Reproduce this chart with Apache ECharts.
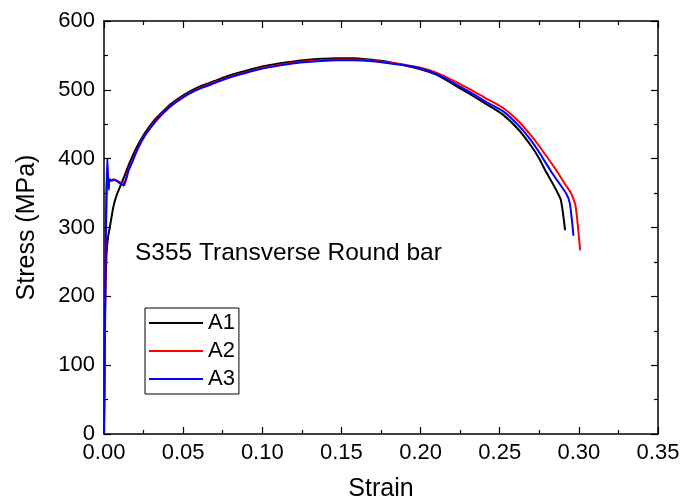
<!DOCTYPE html>
<html>
<head>
<meta charset="utf-8">
<script src="https://cdn.jsdelivr.net/npm/echarts@6/dist/echarts.min.js"></script>
<style>
  html, body { margin: 0; padding: 0; background: #fff; }
  #chart { width: 686px; height: 501px; }
</style>
</head>
<body>
<div id="chart"></div>
<script>
// 应力-应变数据
const strainA1 = [0, 0.0004, 0.0008, 0.0012, 0.0017, 0.0025, 0.0038, 0.0059, 0.008, 0.0101, 0.0126, 0.016, 0.021, 0.026, 0.0315, 0.037, 0.042, 0.05, 0.057, 0.063, 0.07, 0.077, 0.084, 0.095, 0.105, 0.116, 0.126, 0.137, 0.147, 0.158, 0.168, 0.179, 0.189, 0.2, 0.21, 0.22, 0.231, 0.241, 0.252, 0.262, 0.27, 0.275, 0.279, 0.2844, 0.2886, 0.2913];
const stressA1 = [0, 95, 185, 235, 265, 285, 302, 330, 347, 359, 373, 393, 418, 438, 455, 468, 479, 492, 501, 507, 513, 519, 524, 531, 536, 540, 543, 545, 546, 546, 544, 541, 536, 530, 522, 509, 494, 480, 464, 442, 418, 400, 382, 360, 340, 296];

const strainA2 = [0, 0.0004, 0.0008, 0.0012, 0.0016, 0.002, 0.0026, 0.004, 0.006, 0.008, 0.01, 0.012, 0.0135, 0.015, 0.0175, 0.021, 0.026, 0.0315, 0.037, 0.042, 0.05, 0.057, 0.063, 0.07, 0.077, 0.084, 0.095, 0.105, 0.116, 0.126, 0.137, 0.147, 0.158, 0.168, 0.179, 0.189, 0.2, 0.21, 0.22, 0.231, 0.241, 0.252, 0.262, 0.27, 0.275, 0.2855, 0.291, 0.295, 0.298, 0.3008];
const stressA2 = [0, 110, 215, 290, 345, 378, 370, 368, 370, 368, 366, 364, 369, 381, 395, 414, 435, 452, 466, 477, 490, 499, 505, 511, 517, 522, 529, 534, 538, 541, 543, 544, 544, 543, 540, 537, 532, 525, 514, 501, 488, 474, 454, 433, 418, 384, 364, 350, 330, 267];

const strainA3 = [0, 0.0004, 0.0008, 0.0012, 0.0016, 0.0021, 0.0026, 0.003, 0.0035, 0.005, 0.007, 0.009, 0.011, 0.0125, 0.014, 0.0155, 0.0175, 0.021, 0.026, 0.0315, 0.037, 0.042, 0.05, 0.057, 0.063, 0.07, 0.077, 0.084, 0.095, 0.105, 0.116, 0.126, 0.137, 0.147, 0.158, 0.168, 0.179, 0.189, 0.2, 0.21, 0.22, 0.231, 0.241, 0.252, 0.262, 0.27, 0.275, 0.2834, 0.2918, 0.2943, 0.2966];
const stressA3 = [0, 110, 220, 300, 355, 400, 372, 355, 370, 368, 369, 366, 363, 361, 370, 383, 393, 413, 434, 451, 465, 476, 489, 498, 504, 510, 516, 521, 528, 533, 537, 540, 542, 543, 543, 542, 539, 536, 531, 523, 511, 497, 483, 469, 448, 426, 409, 378, 350, 335, 288];

const seriesNames = ['A1', 'A2', 'A3'];
const seriesColors = ['#000000', '#ff0000', '#0000ff'];

const zip = (xs, ys) => xs.map((x, i) => [x, ys[i]]);
const seriesData = [zip(strainA1, stressA1), zip(strainA2, stressA2), zip(strainA3, stressA3)];

const chart = echarts.init(document.getElementById('chart'));

const axisBase = {
    type: 'value',
    splitLine: {show: false},
    axisLine: {show: true, onZero: false, lineStyle: {color: '#000', width: 1.5}},
    axisTick: {show: true, inside: true, length: 7, lineStyle: {color: '#000', width: 1.2}},
    minorTick: {show: true, splitNumber: 2, length: 4, lineStyle: {color: '#000', width: 1.2}},
};

const option = {
    animation: false,
    backgroundColor: '#fff',
    textStyle: {fontFamily: 'Liberation Sans', color: '#000'},
    grid: {left: 104, right: 28, top: 21, bottom: 67, outerBoundsMode: 'none', containLabel: false},
    xAxis: [
        {
            ...axisBase,
            position: 'bottom',
            min: 0, max: 0.35, interval: 0.05,
            axisLabel: {formatter: v => v.toFixed(2), fontSize: 22, color: '#000', margin: 8},
            name: 'Strain',
            nameLocation: 'middle',
            nameGap: 43,
            nameTextStyle: {fontSize: 25, color: '#000'}
        },
        {
            ...axisBase,
            position: 'top',
            min: 0, max: 0.35, interval: 0.05,
            axisLabel: {show: false}
        }
    ],
    yAxis: [
        {
            ...axisBase,
            position: 'left',
            min: 0, max: 600, interval: 100,
            axisLabel: {fontSize: 22, color: '#000', margin: 9},
            name: 'Stress (MPa)',
            nameLocation: 'middle',
            nameGap: 64,
            nameTextStyle: {fontSize: 25, color: '#000'}
        },
        {
            ...axisBase,
            position: 'right',
            min: 0, max: 600, interval: 100,
            axisLabel: {show: false}
        }
    ],
    legend: {
        data: seriesNames,
        orient: 'vertical',
        left: 145,
        top: 308,
        padding: [4, 4, 4, 4],
        itemGap: 6,
        itemWidth: 54,
        itemHeight: 2,
        icon: 'rect',
        borderColor: '#000',
        borderWidth: 1,
        textStyle: {fontSize: 22, color: '#000', lineHeight: 22, padding: [0, 0, 0, 0]}
    },
    graphic: [{
        type: 'text',
        left: 135,
        top: 241,
        style: {text: 'S355 Transverse Round bar', font: '24.5px "Liberation Sans"', fill: '#000'}
    }],
    series: seriesNames.map((name, i) => ({
        name,
        type: 'line',
        xAxisIndex: 0,
        yAxisIndex: 0,
        data: seriesData[i],
        showSymbol: false,
        symbol: 'none',
        smooth: 0.2,
        lineStyle: {color: seriesColors[i], width: 2},
        itemStyle: {color: seriesColors[i]}
    }))
};

chart.setOption(option);
</script>
</body>
</html>
